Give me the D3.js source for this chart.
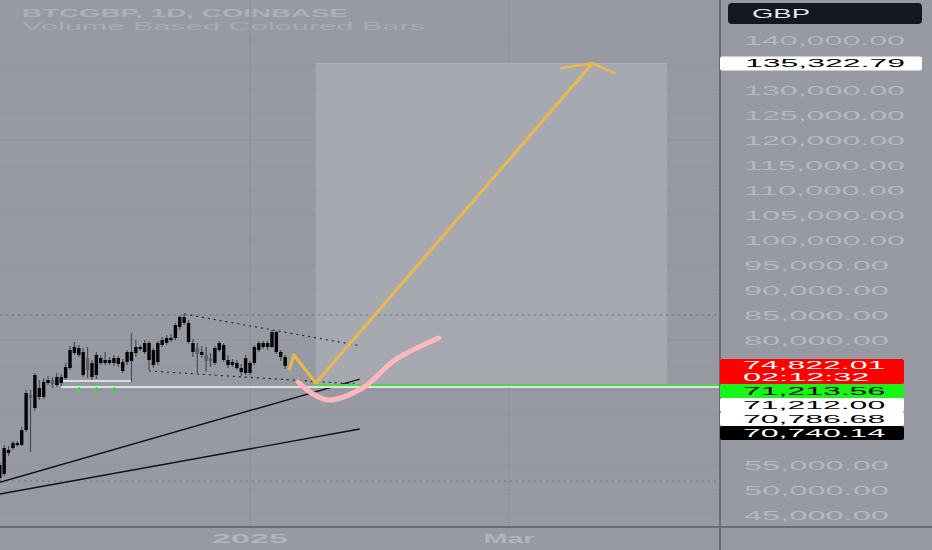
<!DOCTYPE html>
<html><head><meta charset="utf-8">
<script src="https://cdn.jsdelivr.net/npm/d3@7"></script>
<style>html,body{margin:0;padding:0;background:#979aa2;overflow:hidden}svg{display:block}text{font-family:"Liberation Sans",Arial,sans-serif}</style>
</head><body><svg id="c" width="932" height="550"></svg>
<script>
// ---------- data ----------
const dates = ["2024-11-05","2024-11-06","2024-11-07","2024-11-08","2024-11-09","2024-11-10","2024-11-11","2024-11-12","2024-11-13","2024-11-14","2024-11-15","2024-11-16","2024-11-17","2024-11-18","2024-11-19","2024-11-20","2024-11-21","2024-11-22","2024-11-23","2024-11-24","2024-11-25","2024-11-26","2024-11-27","2024-11-28","2024-11-29","2024-11-30","2024-12-01","2024-12-02","2024-12-03","2024-12-04","2024-12-05","2024-12-06","2024-12-07","2024-12-08","2024-12-09","2024-12-10","2024-12-11","2024-12-12","2024-12-13","2024-12-14","2024-12-15","2024-12-16","2024-12-17","2024-12-18","2024-12-19","2024-12-20","2024-12-21","2024-12-22","2024-12-23","2024-12-24","2024-12-25","2024-12-26","2024-12-27","2024-12-28","2024-12-29","2024-12-30","2024-12-31","2025-01-01","2025-01-02","2025-01-03","2025-01-04","2025-01-05","2025-01-06","2025-01-07","2025-01-08","2025-01-09"];
const open  = [52400,53200,57400,58400,59400,59000,62000,69000,66400,70400,68600,71400,72000,71000,72600,72400,74400,77400,78400,77600,74000,75400,73000,76400,75400,76000,75400,76400,75600,75600,77600,77400,78600,77600,79400,78000,75600,79000,79400,80400,80400,82600,84600,83400,79400,77200,77600,77000,75800,75400,78000,79000,76000,75000,75400,74400,76400,73400,75400,78000,79400,78600,78600,81600,77600,76600];
const high  = [55600,59000,58800,59800,59800,62600,70000,70000,73400,72000,72400,72800,72600,73400,73200,75400,78800,79600,79000,78400,78600,76000,77600,77000,77600,76600,77000,76800,76200,78000,81400,80000,79000,80000,79800,78400,79800,80600,81000,81200,83400,84800,85200,84000,80200,79400,78800,78600,77400,78800,79800,79400,77000,76200,76000,75200,77000,75800,79000,79800,79800,79800,82000,81800,78000,77000];
const low   = [51800,52800,56800,58000,58600,58800,61600,57600,65800,68000,68200,71000,70400,70600,70800,72000,74000,77000,76600,72600,72400,72000,72200,75000,75000,75000,74800,74600,73400,75000,71600,76600,77800,77200,74000,74400,75000,78600,79000,79600,80000,82000,83000,79200,76600,73400,76400,73600,74600,75000,77600,75600,74400,74600,74000,72800,73000,73000,75000,77600,78200,78000,78400,77200,75800,74200];
const close = [55000,58400,58000,59400,59000,62000,69400,68400,73000,68600,71600,72000,71200,72600,71400,74600,78000,78600,77000,73000,76400,72600,77000,75400,76000,75400,76400,75200,73800,77600,75800,78600,78200,79400,76000,75000,79400,80000,80400,80000,83000,84600,83400,79600,77600,78400,77000,75800,76400,78400,79400,76000,75000,75600,74400,73600,73400,75400,78600,79400,78600,79400,81600,77600,76600,74822.01];
const greyBar = ["2024-11-12","2024-11-17","2024-11-25","2024-12-20","2024-12-22","2024-12-23"];

const priceTicks = [45000,50000,55000,60000,65000,70000,75000,80000,85000,90000,95000,100000,105000,110000,115000,120000,125000,130000,135000,140000];
const timeTicks = ["2025-01-01","2025-03-01"];
const timeTickLabels = ["2025","Mar"];

// drawings
const orangeDates = ["2025-01-10","2025-01-11","2025-01-16","2025-03-20"];
const orangePrices = [74200,77000,71400,135322.79];
const arrowDates = ["2025-03-13","2025-03-20","2025-03-25"];
const arrowPrices = [134400,135322.79,133400];
const pinkDates = ["2025-01-12","2025-01-15","2025-01-19","2025-01-27","2025-02-03","2025-02-13"];
const pinkPrices = [71600,69400,68000,70600,76000,80400];
const targetBoxDates = ["2025-01-16","2025-04-06"];
const targetBoxPrices = [71212,135322.79];
const upperTriDates = ["2024-12-17","2025-01-26"], upperTriPrices = [85200,78860];
const lowerTriDates = ["2024-12-09","2025-01-25"], lowerTriPrices = [73800,71200];
const trend1Dates = ["2024-11-05","2025-01-26"], trend1Prices = [51540,72180];
const trend2Dates = ["2024-11-05","2025-01-26"], trend2Prices = [49200,62200];
const dottedLevels = [85000,51800];
const greenLevel = 71213.56, greenStart = "2025-01-16";
const paleLevel = 70786.68, paleStart = "2024-11-19";
const whiteLevel = 71800, whiteDates = ["2024-11-19","2024-12-05"];
const markDates = ["2024-11-23","2024-11-27","2024-12-01"], markPrice = 70000;

const title1 = "BTCGBP, 1D, COINBASE";
const title2 = "Volume Based Coloured Bars";
const currency = "GBP";
const axisLabels = [
  {v:135322.79, lines:["135,322.79"], bg:"#ffffff", fg:"#000000"},
  {v:74822.01, lines:["74,822.01","02:12:32"], bg:"#ff0000", fg:"#ffffff"},
  {v:71213.56, lines:["71,213.56"], bg:"#18f518", fg:"#000000"},
  {v:71212.00, lines:["71,212.00"], bg:"#ffffff", fg:"#000000"},
  {v:70786.68, lines:["70,786.68"], bg:"#ffffff", fg:"#000000"},
  {v:70740.14, lines:["70,740.14"], bg:"#000000", fg:"#ffffff"}
];

// ---------- layout ----------
const W = 932, H = 550, plotR = 720, plotB = 527;
const P = d3.utcParse("%Y-%m-%d");
const x = d3.scaleUtc().domain([P("2025-01-01"), P("2025-03-01")]).range([250, 509]);
const y = d3.scaleLinear().domain([45000, 140000]).range([515, 40]);
const svg = d3.select("#c");
const fmt = d3.format(",.2f");
const bg = "#979aa2";

svg.append("rect").attr("width", W).attr("height", H).attr("fill", bg);

const clip = svg.append("defs").append("clipPath").attr("id","pc");
clip.append("rect").attr("x",0).attr("y",0).attr("width",plotR).attr("height",plotB);
const plot = svg.append("g").attr("clip-path","url(#pc)");

// grid
plot.selectAll(".hg").data(priceTicks).join("line")
  .attr("x1",0).attr("x2",plotR).attr("y1",d=>y(d)).attr("y2",d=>y(d))
  .attr("stroke","#8f929a").attr("stroke-width",1).attr("opacity",0.6);
plot.selectAll(".vg").data(timeTicks).join("line")
  .attr("x1",d=>x(P(d))).attr("x2",d=>x(P(d))).attr("y1",0).attr("y2",plotB)
  .attr("stroke","#8c8f97").attr("stroke-width",1);

// target box
plot.append("rect")
  .attr("x", x(P(targetBoxDates[0]))).attr("width", x(P(targetBoxDates[1])) - x(P(targetBoxDates[0])))
  .attr("y", y(targetBoxPrices[1])).attr("height", y(targetBoxPrices[0]) - y(targetBoxPrices[1]))
  .attr("fill","#a6a9b0");
plot.append("line")
  .attr("x1", x(P(targetBoxDates[0]))).attr("x2", x(P(targetBoxDates[1])))
  .attr("y1", y(targetBoxPrices[1])).attr("y2", y(targetBoxPrices[1]))
  .attr("stroke","#b0b3ba").attr("stroke-width",1);

// dotted levels
plot.selectAll(".dl").data(dottedLevels).join("line")
  .attr("x1",0).attr("x2",plotR).attr("y1",d=>y(d)).attr("y2",d=>y(d))
  .attr("stroke","#6f727a").attr("stroke-width",1).attr("stroke-dasharray","2,4");

// trend lines
function seg(ds, ps, stroke, w, dash){
  const l = plot.append("line")
    .attr("x1", x(P(ds[0]))).attr("y1", y(ps[0]))
    .attr("x2", x(P(ds[1]))).attr("y2", y(ps[1]))
    .attr("stroke", stroke).attr("stroke-width", w);
  if (dash) l.attr("stroke-dasharray", dash);
}
seg(trend1Dates, trend1Prices, "#111", 1.4);
seg(trend2Dates, trend2Prices, "#111", 1.4);
seg(upperTriDates, upperTriPrices, "#2a2a2a", 1.2, "2,4");
seg(lowerTriDates, lowerTriPrices, "#2a2a2a", 1.2, "2,4");

// horizontal levels
plot.append("line").attr("x1", x(P(paleStart))).attr("x2", plotR)
  .attr("y1", y(paleLevel)+1).attr("y2", y(paleLevel)+1)
  .attr("stroke","#dde4dc").attr("stroke-width",2);
plot.append("line").attr("x1", x(P(whiteDates[0]))).attr("x2", x(P(whiteDates[1])))
  .attr("y1", y(whiteLevel)).attr("y2", y(whiteLevel))
  .attr("stroke","#f4f4f4").attr("stroke-width",1.5);
plot.append("line").attr("x1", x(P(greenStart))).attr("x2", plotR)
  .attr("y1", y(greenLevel)+1).attr("y2", y(greenLevel)+1)
  .attr("stroke","#4fd64f").attr("stroke-width",2);

// green marks
plot.selectAll(".mk").data(markDates).join("text")
  .attr("x", d=>x(P(d))).attr("y", y(markPrice)).attr("dy","0.5em")
  .attr("text-anchor","middle").attr("font-size",12).attr("font-weight","bold")
  .attr("fill","#1ee81e").text("*");

// candles
const candles = dates.map((d,i)=>({d:P(d), o:open[i], h:high[i], l:low[i], c:close[i], g:greyBar.includes(d)}));
const cg = plot.append("g");
cg.selectAll(".wk").data(candles).join("line")
  .attr("x1", d=>x(d.d)).attr("x2", d=>x(d.d))
  .attr("y1", d=>y(d.h)).attr("y2", d=>y(d.l))
  .attr("stroke", "#4a4d53").attr("stroke-width",1.2);
cg.selectAll(".bd").data(candles).join("rect")
  .attr("x", d=>x(d.d)-1.7).attr("width",3.4)
  .attr("y", d=>y(Math.max(d.o,d.c)))
  .attr("height", d=>Math.max(1.5, Math.abs(y(d.o)-y(d.c))))
  .attr("fill", d=>d.g ? "#5d6067" : "#050505");

// drawings
const lineGen = d3.line().x(d=>x(P(d[0]))).y(d=>y(d[1]));
plot.append("path").datum(pinkDates.map((d,i)=>[d,pinkPrices[i]]))
  .attr("d", lineGen.curve(d3.curveCatmullRom)).attr("fill","none")
  .attr("stroke","#ffb7bd").attr("stroke-width",5).attr("stroke-linecap","round");
const straight = d3.line().x(d=>x(P(d[0]))).y(d=>y(d[1]));
plot.append("path").datum(orangeDates.map((d,i)=>[d,orangePrices[i]]))
  .attr("d", straight).attr("fill","none")
  .attr("stroke","#e9b74f").attr("stroke-width",3.2).attr("stroke-linejoin","round").attr("stroke-linecap","round");
plot.append("path").datum(arrowDates.map((d,i)=>[d,arrowPrices[i]]))
  .attr("d", straight).attr("fill","none")
  .attr("stroke","#e9b74f").attr("stroke-width",2.6).attr("stroke-linejoin","round").attr("stroke-linecap","round");

// titles
svg.append("text").attr("x",22).attr("y",13).attr("dy","0.36em")
  .attr("font-size",11.5).attr("font-weight","bold").attr("fill","#adb0b7")
  .attr("textLength",326).attr("lengthAdjust","spacingAndGlyphs").text(title1);
svg.append("text").attr("x",22).attr("y",26).attr("dy","0.36em")
  .attr("font-size",11.5).attr("fill","#a9acb3")
  .attr("textLength",403).attr("lengthAdjust","spacingAndGlyphs").text(title2);

// frame lines
svg.append("line").attr("x1",0).attr("x2",W).attr("y1",plotB).attr("y2",plotB)
  .attr("stroke","#6a6d75").attr("stroke-width",2);
svg.append("line").attr("x1",plotR).attr("x2",plotR).attr("y1",0).attr("y2",H)
  .attr("stroke","#6a6d75").attr("stroke-width",2);

// price label boxes layout (stacked to avoid overlap, as the platform does)
const boxH = 14;
let nextTop = -Infinity;
const boxes = axisLabels.map((L,i)=>{
  const h = L.lines.length>1 ? 25 : boxH;
  let top = y(L.v) - 7;
  if (top < nextTop) top = nextTop;
  nextTop = top + h;
  return {L, i, top, h};
});

// price axis ticks (those hidden under the label boxes are not drawn)
const visibleTicks = priceTicks.filter(t => !boxes.some(b => y(t) > b.top - 6 && y(t) < b.top + b.h + 6));
svg.append("g").selectAll(".tl").data(visibleTicks).join("text")
  .attr("x",744).attr("y",d=>y(d)).attr("dy","0.36em")
  .attr("font-size",12.5).attr("fill","#b5b8bf")
  .attr("textLength",d=>fmt(d).length*16.1).attr("lengthAdjust","spacingAndGlyphs")
  .text(d=>fmt(d));

// time axis
svg.selectAll(".tt").data(timeTicks).join("text")
  .attr("x",d=>x(P(d))).attr("y",539).attr("dy","0.36em").attr("text-anchor","middle")
  .attr("font-size",12).attr("font-weight","bold").attr("fill","#b2b5bc")
  .attr("textLength",(d,i)=>timeTickLabels[i].length*(i===0?19:17)).attr("lengthAdjust","spacingAndGlyphs")
  .text((d,i)=>timeTickLabels[i]);

// currency box
svg.append("rect").attr("x",728).attr("y",3).attr("width",194).attr("height",21).attr("rx",4)
  .attr("fill","#131722");
svg.append("text").attr("x",752).attr("y",13.5).attr("dy","0.36em").attr("font-size",12.5)
  .attr("fill","#e8e8ea").attr("textLength",58).attr("lengthAdjust","spacingAndGlyphs").text(currency);

boxes.forEach(({L,i,top,h})=>{
  const wBox = i===0 ? 202 : 184;
  svg.append("rect").attr("x",720).attr("y",top).attr("width",wBox).attr("height",h).attr("rx",2).attr("fill",L.bg);
  const fs = L.lines.length>1 ? 10.5 : 11.5;
  L.lines.forEach((t,j)=>{
    const cy = L.lines.length>1 ? top + 6.5 + j*11.5 : top + h/2;
    svg.append("text").attr("x",i===0?745:743).attr("y",cy).attr("dy","0.35em")
      .attr("font-size",fs).attr("fill",L.fg)
      .attr("textLength",t.length*(i===0?16:15.8)).attr("lengthAdjust","spacingAndGlyphs").text(t);
  });
});
</script></body></html>
